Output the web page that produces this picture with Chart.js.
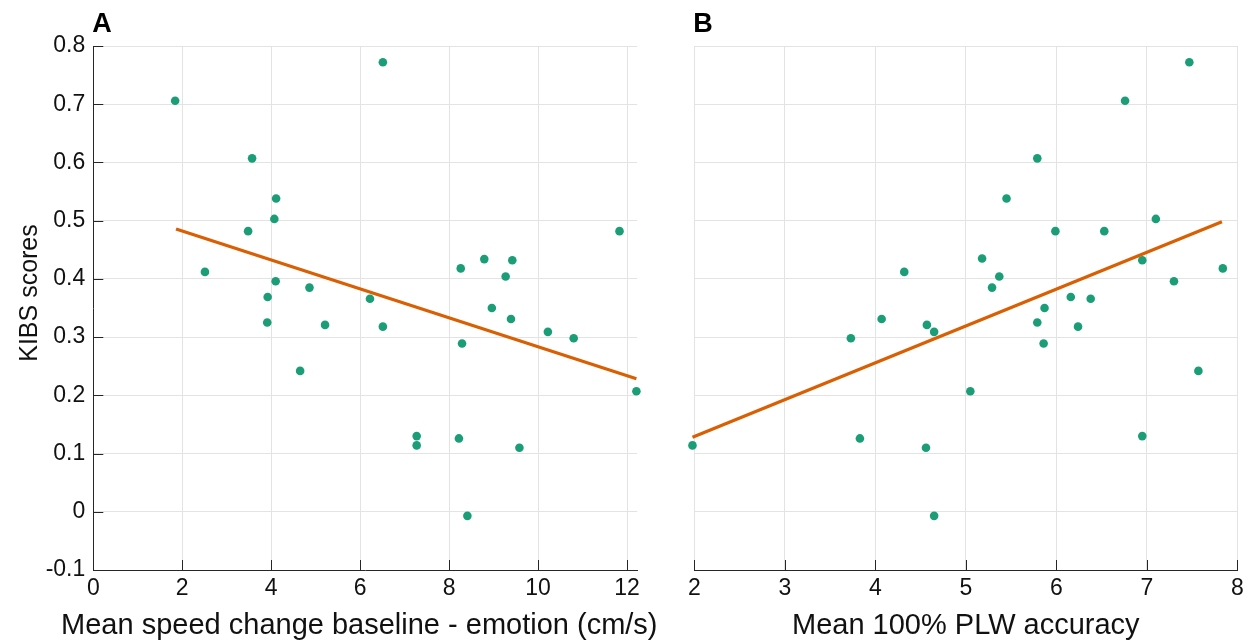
<!DOCTYPE html>
<html>
<head>
<meta charset="utf-8">
<script src="https://cdn.jsdelivr.net/npm/chart.js@4.4.1/dist/chart.umd.min.js"></script>
<style>
  html, body { margin: 0; padding: 0; background: #ffffff; }
  #wrap { position: relative; width: 1258px; height: 642px; overflow: hidden; }
  #cA { position: absolute; left: 0; top: 0; }
  #cB { position: absolute; left: 660px; top: 0; }
</style>
</head>
<body>
<div id="wrap">
  <canvas id="cA" width="660" height="642"></canvas>
  <canvas id="cB" width="598" height="642"></canvas>
</div>
<script>
// ---------- data ----------
const kibsScores = [0.706, 0.607, 0.538, 0.503, 0.482, 0.412, 0.772, 0.482, 0.418, 0.434, 0.432, 0.404, 0.396, 0.385, 0.369, 0.366, 0.325, 0.321, 0.242, 0.318, 0.350, 0.331, 0.309, 0.298, 0.289, 0.207, 0.130, 0.114, 0.126, 0.110, -0.007];
const speedChange = [1.84, 3.57, 4.11, 4.07, 3.48, 2.51, 6.51, 11.83, 8.26, 8.79, 9.42, 9.27, 4.10, 4.86, 3.92, 6.22, 3.91, 5.21, 4.65, 6.51, 8.96, 9.39, 10.22, 10.80, 8.29, 12.21, 7.27, 7.27, 8.22, 9.58, 8.41];

const kibsScoresB = [0.412, 0.772, 0.706, 0.607, 0.538, 0.503, 0.482, 0.482, 0.435, 0.432, 0.404, 0.418, 0.331, 0.321, 0.309, 0.298, 0.207, 0.126, 0.110, -0.007, 0.114, 0.385, 0.396, 0.350, 0.369, 0.366, 0.325, 0.318, 0.289, 0.242, 0.130];
const plwAccuracy = [4.32, 7.47, 6.76, 5.79, 5.45, 7.10, 5.99, 6.53, 5.18, 6.95, 5.37, 7.84, 4.07, 4.57, 4.65, 3.73, 5.05, 3.83, 4.56, 4.65, 1.98, 5.29, 7.30, 5.87, 6.16, 6.38, 5.79, 6.24, 5.86, 7.57, 6.95];

const fitLineAX = [1.86, 12.21];
const fitLineAY = [0.4856, 0.2285];
const fitLineBX = [1.98, 7.83];
const fitLineBY = [0.128, 0.498];

const yTickValues = [-0.1, 0, 0.1, 0.2, 0.3, 0.4, 0.5, 0.6, 0.7, 0.8];
const yTickLabels = ['-0.1', '0', '0.1', '0.2', '0.3', '0.4', '0.5', '0.6', '0.7', '0.8'];
const xTickValuesA = [0, 2, 4, 6, 8, 10, 12];
const xTickValuesB = [2, 3, 4, 5, 6, 7, 8];

const xTitleA = 'Mean speed change baseline - emotion (cm/s)';
const xTitleB = 'Mean 100% PLW accuracy';
const yTitle = 'KIBS scores';
const panelA = 'A';
const panelB = 'B';

// ---------- styling ----------
const FONT = "'Liberation Sans', Arial, Helvetica, sans-serif";
const POINT_COLOR = '#1b9e77';
const LINE_COLOR = '#d95f02';
const AXIS_COLOR = '#262626';
const GRID_COLOR = '#e3e3e3';

Chart.defaults.font.family = FONT;
Chart.defaults.color = '#111111';

const toPts = (xs, ys) => xs.map((x, i) => ({ x: x, y: ys[i] }));

const axisDecor = {
  id: 'axisDecor',
  afterDraw(chart, args, opts) {
    const ctx = chart.ctx, a = chart.chartArea;
    ctx.save();
    ctx.strokeStyle = AXIS_COLOR;
    ctx.lineWidth = 1;
    const xs = chart.scales.x;
    xs.ticks.forEach(t => {
      const px = Math.round(xs.getPixelForValue(t.value)) + 0.5;
      ctx.beginPath(); ctx.moveTo(px, a.bottom); ctx.lineTo(px, a.bottom - 10); ctx.stroke();
    });
    if (opts.yTicks) {
      const ys = chart.scales.y;
      ys.ticks.forEach(t => {
        const py = Math.round(ys.getPixelForValue(t.value)) + 0.5;
        ctx.beginPath(); ctx.moveTo(a.left, py); ctx.lineTo(a.left + 10, py); ctx.stroke();
      });
      // y axis title
      ctx.save();
      ctx.fillStyle = '#111111';
      ctx.font = '25px ' + FONT;
      ctx.textAlign = 'center';
      ctx.textBaseline = 'middle';
      ctx.translate(30, 293);
      ctx.rotate(-Math.PI / 2);
      ctx.fillText(opts.yTitle, 0, 0);
      ctx.restore();
    }
    // x axis title
    ctx.fillStyle = '#111111';
    ctx.font = '29px ' + FONT;
    ctx.textAlign = 'center';
    ctx.textBaseline = 'middle';
    ctx.fillText(opts.xTitle, (a.left + a.right) / 2 + opts.xTitleShift, 626);
    // panel letter
    ctx.fillStyle = '#000000';
    ctx.font = 'bold 27px ' + FONT;
    ctx.textBaseline = 'alphabetic';
    ctx.textAlign = 'left';
    ctx.fillText(opts.letter, a.left - 1, 32);
    ctx.restore();
  }
};

function makeChart(id, xs, ys, lx, ly, xTicks, xTitle, xTitleShift, isLeft, letter, padRight, yWidth, xMin, xMax) {
  return new Chart(document.getElementById(id), {
    type: 'scatter',
    data: {
      datasets: [
        {
          type: 'line',
          data: toPts(lx, ly),
          borderColor: LINE_COLOR,
          borderWidth: 3.2,
          pointRadius: 0,
          fill: false,
          tension: 0,
          clip: false
        },
        {
          data: toPts(xs, ys),
          backgroundColor: POINT_COLOR,
          borderColor: POINT_COLOR,
          borderWidth: 0,
          pointRadius: 4.3,
          clip: false
        }
      ]
    },
    plugins: [axisDecor],
    options: {
      responsive: false,
      animation: false,
      devicePixelRatio: 1,
      layout: { padding: { top: 46, right: padRight, bottom: 0, left: 0 } },
      plugins: {
        legend: { display: false },
        tooltip: { enabled: false },
        axisDecor: { yTicks: isLeft, letter: letter, yTitle: yTitle, xTitle: xTitle, xTitleShift: xTitleShift }
      },
      scales: {
        x: {
          type: 'linear',
          min: xMin, max: xMax,
          afterBuildTicks: s => { s.ticks = xTicks.map(v => ({ value: v })); },
          afterFit: s => { s.height = 72; },
          grid: { color: GRID_COLOR, drawTicks: false, tickLength: 0 },
          border: { display: true, color: AXIS_COLOR, width: 1 },
          ticks: { font: { size: 23 }, color: '#111111', padding: 5, maxRotation: 0, autoSkip: false,
                   callback: v => String(v) },
          title: { display: false }
        },
        y: {
          type: 'linear',
          min: -0.1, max: 0.8,
          afterBuildTicks: s => { s.ticks = yTickValues.map(v => ({ value: v })); },
          afterFit: s => { s.width = yWidth; },
          grid: { color: GRID_COLOR, drawTicks: false, tickLength: 0 },
          border: { display: isLeft, color: AXIS_COLOR, width: 1 },
          ticks: { display: isLeft, font: { size: 23 }, color: '#111111', padding: 8,
                   callback: (v, i) => yTickLabels[i] },
          title: { display: false }
        }
      }
    }
  });
}

makeChart('cA', speedChange, kibsScores, fitLineAX, fitLineAY, xTickValuesA, xTitleA, -6, true, panelA, 22.7, 93.3, 0, 12.23);
makeChart('cB', plwAccuracy, kibsScoresB, fitLineBX, fitLineBY, xTickValuesB, xTitleB, 0, false, panelB, 20.7, 34.3, 2, 8);
</script>
</body>
</html>
